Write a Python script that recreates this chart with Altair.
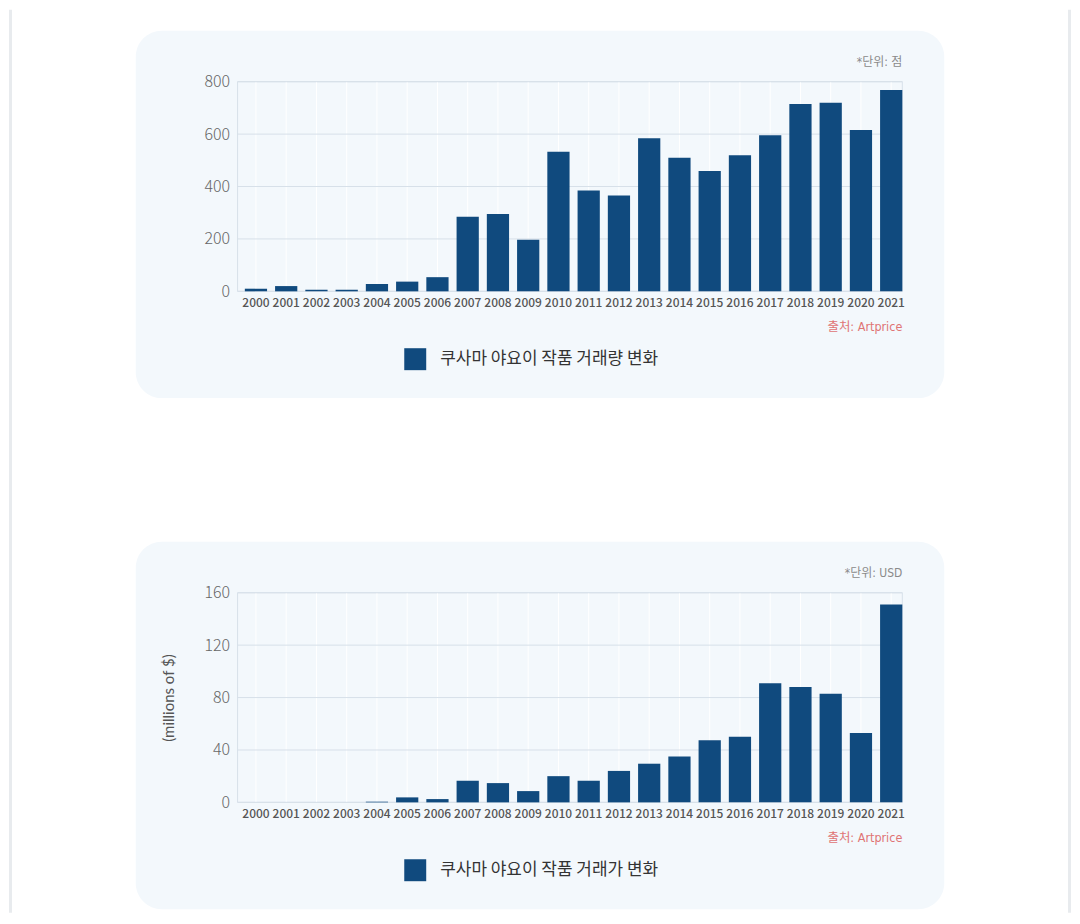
import altair as alt
import pandas as pd

# ---- data ----
years = [str(y) for y in range(2000, 2022)]
volume = [10, 20, 6, 6, 28, 37, 54, 285, 295, 197, 533, 385, 366, 584, 510, 459, 519, 596, 715, 720, 616, 768]
value_musd = [0, 0, 0, 0, 0.5, 3.8, 2.5, 16.5, 14.7, 8.6, 20, 16.5, 24, 29.5, 35, 47.5, 50, 91, 88, 83, 53, 151]
volume_ticks = [0, 200, 400, 600, 800]
value_ticks = [0, 40, 80, 120, 160]
volume_name = "쿠사마 야요이 작품 거래량 변화"
value_name = "쿠사마 야요이 작품 거래가 변화"
volume_unit = "*단위: 점"
value_unit = "*단위: USD"
source_text = "출처: Artprice"
value_axis_title = "(millions of $)"

# ---- style ----
W, H = 666, 210
PANEL = "#f3f8fc"
BAR = "#104a7e"
GRID = "#d7e0e9"
EDGE = "#e8ebee"
NARROW = "'Liberation Sans Narrow', 'DejaVu Sans Condensed', 'Noto Sans CJK KR', sans-serif"
KR = "'Noto Sans CJK KR', 'Noto Sans', sans-serif"


def panel(vals, ticks, name, unit, ytitle, edge_top, edge_bottom):
    bars_df = pd.DataFrame({"year": years, "v": vals, "series": [name] * len(years)})
    grid_df = pd.DataFrame({"v": ticks})
    unit_df = pd.DataFrame({"label": [unit]})
    src_df = pd.DataFrame({"label": [source_text]})
    one = pd.DataFrame({"k": [0]})

    xscale = alt.Scale(paddingInner=0.265, paddingOuter=0.12, align=1)
    yscale = alt.Scale(domain=[ticks[0], ticks[-1]], nice=False)
    xaxis = alt.Axis(title=None, labelAngle=0, domain=False, ticks=False, grid=False,
                     labelFont=KR, labelFontSize=12, labelFontWeight=500, labelColor="#555555",
                     labelPadding=6, zindex=1)
    ykw = dict(values=ticks, grid=False, domain=False, ticks=False,
               labelFont=KR, labelFontSize=16, labelFontWeight=300, labelColor="#666666",
               labelPadding=8, zindex=1)
    if ytitle:
        ykw.update(title=ytitle, titleFont="Lato", titleFontSize=15,
                   titleFontWeight="normal", titleColor="#555555", titlePadding=28)
    else:
        ykw.update(title=None)
    yaxis = alt.Axis(**ykw)
    x_enc = alt.X("year:O", scale=xscale, axis=xaxis)
    y_enc = alt.Y("v:Q", scale=yscale, axis=yaxis)

    # page edge lines (decoration)
    edges = [
        alt.Chart(one).mark_rule(color=EDGE, strokeWidth=3, strokeCap="square").encode(
            x=alt.value(ex), y=alt.value(edge_top), y2=alt.value(edge_bottom))
        for ex in (-227.5, 833.5)
    ]
    bg = alt.Chart(one).mark_rect(fill=PANEL, cornerRadius=26).encode(
        x=alt.value(-102), x2=alt.value(W + 42), y=alt.value(-51), y2=alt.value(H + 107))
    frame = alt.Chart(one).mark_rect(fill=PANEL, fillOpacity=0, stroke=GRID, strokeWidth=1).encode(
        x=alt.value(0), x2=alt.value(W), y=alt.value(0), y2=alt.value(H))
    vgrid = alt.Chart(bars_df).mark_rule(color="#ffffff", strokeWidth=1).encode(
        x=x_enc, y=alt.value(0), y2=alt.value(H))
    hgrid = alt.Chart(grid_df).mark_rule(color=GRID, strokeWidth=1).encode(
        y=y_enc, x=alt.value(0), x2=alt.value(W))
    bars = alt.Chart(bars_df).mark_bar().encode(
        x=x_enc, y=y_enc,
        color=alt.Color("series:N", scale=alt.Scale(domain=[name], range=[BAR]),
                        legend=alt.Legend(orient="none", legendX=167, legendY=267, title=None,
                                          symbolType="square", symbolSize=484, symbolStrokeWidth=0,
                                          labelFont=KR, labelFontSize=17, labelColor="#333333",
                                          labelOffset=14, labelLimit=400, padding=0, zindex=1)))
    unit_t = alt.Chart(unit_df).mark_text(align="right", baseline="middle", font=NARROW,
                                          fontSize=12, color="#8a8a8a").encode(
        x=alt.value(W), y=alt.value(-20), text="label:N")
    src_t = alt.Chart(src_df).mark_text(align="right", baseline="middle", font=NARROW,
                                        fontSize=12.5, color="#e07474").encode(
        x=alt.value(W), y=alt.value(H + 36), text="label:N")
    return alt.layer(*edges, bg, frame, vgrid, hgrid, bars, unit_t, src_t).properties(width=W, height=H)


# edge lines of the page: top panel's run down past where the second panel starts
top = panel(volume, volume_ticks, volume_name, volume_unit, None, -70.5, 480)
bottom = panel(value_musd, value_ticks, value_name, value_unit, value_axis_title, -80, 319)

chart = (
    alt.vconcat(top, bottom, spacing=512 - H, bounds="flush")
    .resolve_scale(x="independent", y="independent", color="independent")
    .resolve_legend(color="independent")
    .properties(padding={"left": 0, "top": 0, "right": 0, "bottom": 0}, background="#ffffff")
    .configure_view(strokeWidth=0)
)

chart.save("out.html", embed_options={"renderer": "svg", "actions": False})
